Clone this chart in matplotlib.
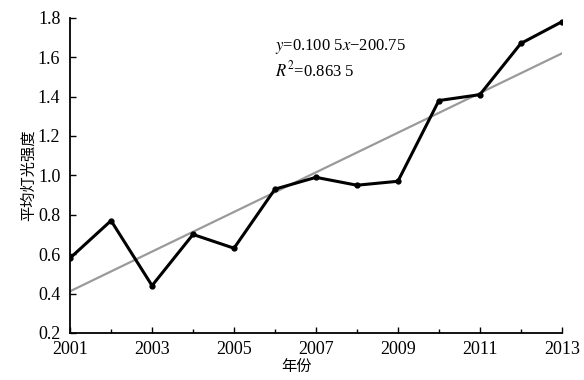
import numpy as np
import matplotlib.pyplot as plt
from matplotlib.ticker import MultipleLocator, FixedLocator

plt.rcParams['font.family'] = ['Liberation Serif', 'Noto Sans CJK SC', 'DejaVu Sans']
plt.rcParams['mathtext.fontset'] = 'stix'

years = [2001, 2002, 2003, 2004, 2005, 2006, 2007, 2008, 2009, 2010, 2011, 2012, 2013]
light = [0.58, 0.77, 0.44, 0.70, 0.63, 0.93, 0.99, 0.95, 0.97, 1.38, 1.41, 1.67, 1.78]
year_ticks = [2001, 2003, 2005, 2007, 2009, 2011, 2013]
eq_text = '$y$=0.100 5$x$\u2212200.75'
r2_text = '$R^2$=0.863 5'

fig = plt.figure(figsize=(5.84, 3.8), dpi=100)
ax = fig.add_axes([0.12, 0.124, 0.842, 0.829])

# linear trend
k, b = np.polyfit(years, light, 1)
xs = np.array([years[0], years[-1]])
ax.plot(xs, k * xs + b, color='#9a9a9a', lw=1.6, zorder=1)

ax.plot(years, light, color='black', lw=2.2, marker='o', ms=3.5, zorder=2)

ax.text(2006.0, 1.655, eq_text, fontsize=12, va='center')
ax.text(2006.0, 1.535, r2_text, fontsize=12, va='center')

ax.set_xlim(2001, 2013)
ax.set_ylim(0.2, 1.8)
ax.xaxis.set_major_locator(FixedLocator(year_ticks))
ax.xaxis.set_minor_locator(MultipleLocator(1))
ax.yaxis.set_major_locator(MultipleLocator(0.2))
ax.yaxis.set_major_formatter(plt.FuncFormatter(lambda v, p: f'{v:.1f}'))
ax.tick_params(direction='in', length=4, width=1, labelsize=13)
ax.tick_params(axis='x', pad=6)
ax.tick_params(axis='y', pad=7)
ax.tick_params(which='minor', direction='in', length=3, width=1)
for s in ['top', 'right']:
    ax.spines[s].set_visible(False)
for s in ['left', 'bottom']:
    ax.spines[s].set_linewidth(1.3)

ax.set_xlabel('年份', fontsize=11, family=['Noto Sans CJK SC'])
ax.xaxis.set_label_coords(0.46, -0.08)
ax.set_ylabel('平均灯光强度', fontsize=11, family=['Noto Sans CJK SC'], labelpad=1)

fig.savefig('out.png', dpi=100)
